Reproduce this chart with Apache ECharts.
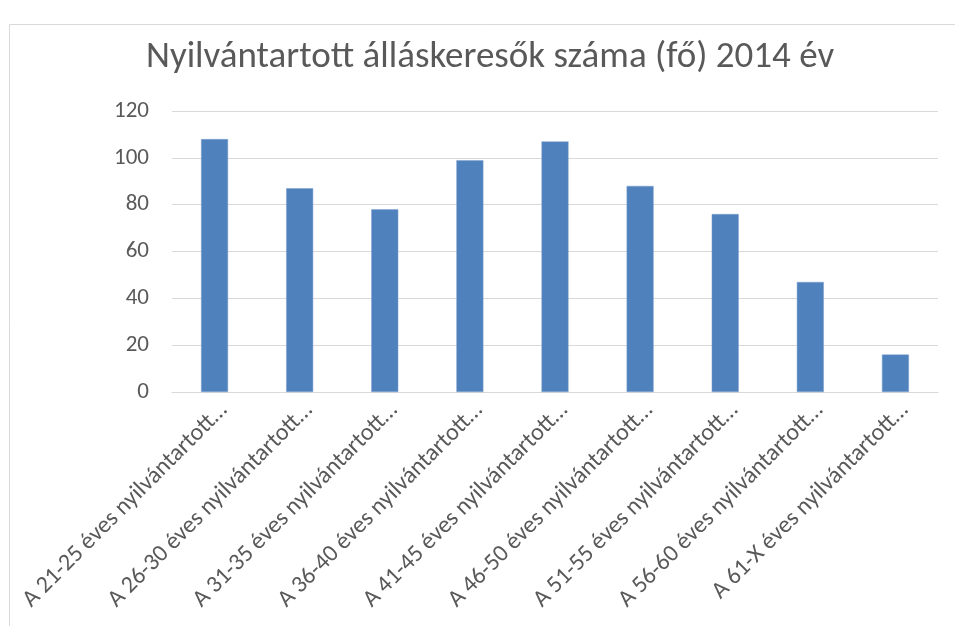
<!DOCTYPE html>
<html>
<head>
<meta charset="utf-8">
<script src="https://cdn.jsdelivr.net/npm/echarts@6/dist/echarts.min.js"></script>
<style>
html,body{margin:0;padding:0;background:#fff;}
#chart{width:955px;height:626px;}
</style>
</head>
<body>
<div id="chart"></div>
<script>
const titleText = 'Nyilvántartott álláskeresők száma (fő) 2014 év';
const categories = [
  'A 21-25 éves nyilvántartott…',
  'A 26-30 éves nyilvántartott…',
  'A 31-35 éves nyilvántartott…',
  'A 36-40 éves nyilvántartott…',
  'A 41-45 éves nyilvántartott…',
  'A 46-50 éves nyilvántartott…',
  'A 51-55 éves nyilvántartott…',
  'A 56-60 éves nyilvántartott…',
  'A 61-X éves nyilvántartott…'
];
const values = [108, 87, 78, 99, 107, 88, 76, 47, 16];
const yTicks = [0, 20, 40, 60, 80, 100, 120];

const FONT = "Calibri, Carlito, 'Open Sans', sans-serif";
const chart = echarts.init(document.getElementById('chart'), null, {renderer: 'canvas'});
chart.setOption({
  backgroundColor: '#ffffff',
  animation: false,
  graphic: [{
    type: 'rect',
    left: 7, top: 22,
    shape: {width: 1000, height: 700},
    style: {fill: 'none', stroke: '#d9d9d9', lineWidth: 1}
  }],
  title: {
    text: titleText,
    left: 141,
    top: 34,
    textStyle: {fontFamily: FONT, fontSize: 37, fontWeight: 'normal', color: '#595959'}
  },
  grid: {left: 172, right: 17, top: 111, bottom: 234},
  xAxis: {
    type: 'category',
    data: categories,
    axisLine: {lineStyle: {color: '#d9d9d9', width: 1}},
    axisTick: {show: false},
    axisLabel: {
      interval: 0, rotate: 45, margin: 24, padding: [0, -13, 0, 0],
      fontFamily: FONT, fontSize: 24, color: '#595959'
    }
  },
  yAxis: {
    type: 'value',
    min: yTicks[0], max: yTicks[yTicks.length - 1], interval: 20,
    axisLine: {show: false},
    axisTick: {show: false},
    splitLine: {lineStyle: {color: '#d9d9d9', width: 1}},
    axisLabel: {margin: 23, fontFamily: FONT, fontSize: 23, color: '#595959'}
  },
  series: [{
    type: 'bar',
    data: values,
    barWidth: 27,
    itemStyle: {color: '#4f81bd', borderColor: '#7ea1cf', borderWidth: 0.5}
  }]
});
</script>
</body>
</html>
